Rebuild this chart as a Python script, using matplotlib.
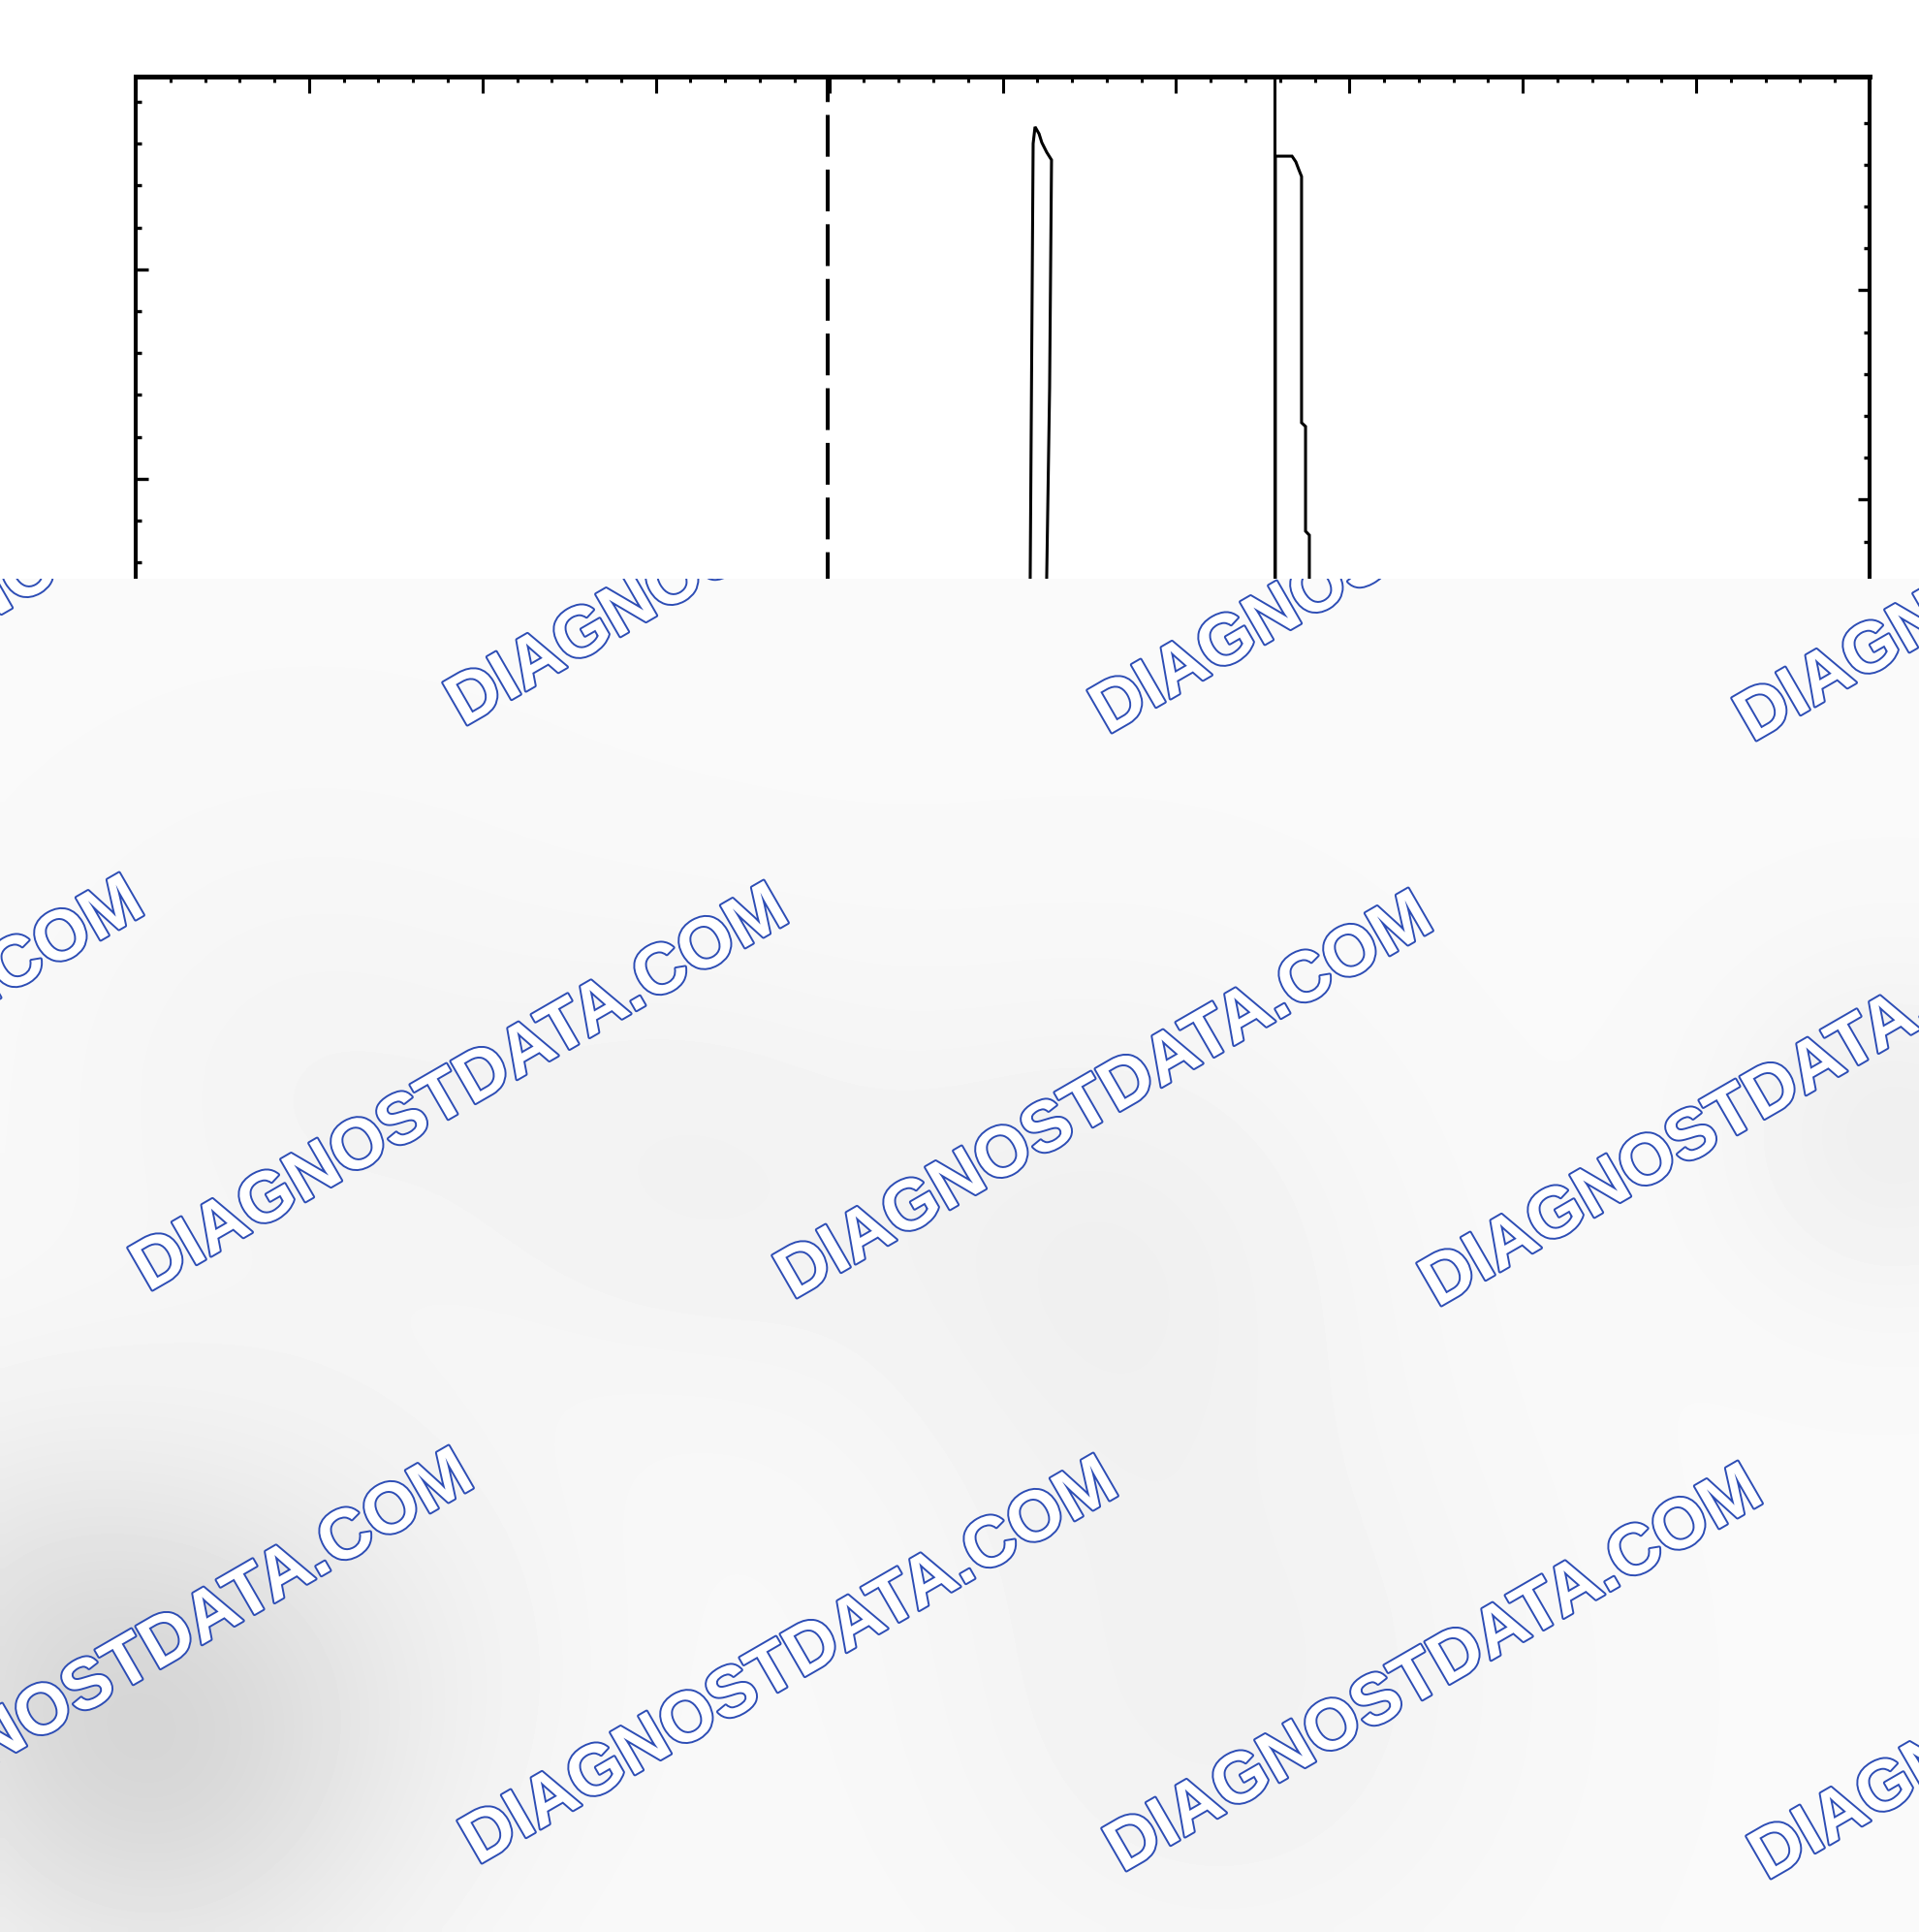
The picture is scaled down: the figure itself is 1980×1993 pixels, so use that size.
import numpy as np
import matplotlib.pyplot as plt
import matplotlib.patheffects as pe

# Scope trace, in screen divisions (x: 0..10 left->right, y: 0..8 bottom->top)
pulse1_x = [5.145, 5.159, 5.176, 5.187, 5.210, 5.226, 5.254, 5.282, 5.271, 5.254, 5.243]
pulse1_y = [1.88, 5.60, 7.68, 7.76, 7.727, 7.685, 7.639, 7.602, 6.514, 5.60, 1.88]

pulse2_x = [6.573, 6.573, 6.669, 6.691, 6.708, 6.724, 6.724, 6.747, 6.747, 6.769, 6.769]
pulse2_y = [1.88, 7.62, 7.62, 7.593, 7.556, 7.523, 6.347, 6.329, 5.829, 5.81, 1.88]

cursor_dashed = 3.99
cursor_solid = 6.57

# graticule marks
top_major = np.arange(0, 10.01, 1.0)
top_minor = np.arange(0, 10.01, 0.2)
left_minor = np.arange(7.88, 0, -0.2)
left_major = np.arange(7.08, 0, -1.0)
right_minor = np.arange(7.78, 0, -0.2)
right_major = np.arange(6.98, 0, -1.0)

# watermark overlay
wm_text = "DIAGNOSTDATA.COM"
wm_origin = (818, 1341)
wm_step_row = (665, 8)
wm_step_col = (-325, 583)
wm_blue = "#2d4db5"

# soft shading of the overlay (cx, cy, sigma, depth) in pixels
blob_cx = [150, 20, 330, 710, 1140, 1260, 1960, 320]
blob_cy = [1840, 1660, 1700, 1210, 1300, 1750, 1170, 1120]
blob_s = [170, 160, 180, 160, 190, 210, 120, 190]
blob_d = [0.10, 0.05, 0.035, 0.025, 0.035, 0.03, 0.04, 0.02]

W, H = 1980, 1993
TOP, BOT, LEFT, RIGHT = 79, 1807, 140, 1929
OV_TOP = 597

fig = plt.figure(figsize=(W / 100, H / 100), dpi=100, facecolor="white")

ax = fig.add_axes([LEFT / W, 1 - BOT / H, (RIGHT - LEFT) / W, (BOT - TOP) / H])
ax2 = ax.twinx()
for a in (ax, ax2):
    a.set_xlim(0, 10)
    a.set_ylim(0, 8)

ax.plot(pulse1_x, pulse1_y, color="black", lw=2.2, solid_joinstyle="miter")
ax.plot(pulse2_x, pulse2_y, color="black", lw=2.2, solid_joinstyle="miter")
ax.axvline(cursor_dashed, color="black", lw=2.9, linestyle=(11.5, (10.7, 3.3)))
ax.axvline(cursor_solid, color="black", lw=2.2)

ax.spines["top"].set_linewidth(3.6)
ax.spines["left"].set_linewidth(2.9)
ax.spines["right"].set_linewidth(2.9)
ax.spines["bottom"].set_linewidth(2.9)
for s in ax2.spines.values():
    s.set_visible(False)

ax.xaxis.tick_top()
ax.set_xticks(top_major)
ax.set_xticks(top_minor, minor=True)
ax.tick_params(axis="x", which="major", direction="in", length=12, width=2.2,
               top=True, bottom=False, labeltop=False, labelbottom=False)
ax.tick_params(axis="x", which="minor", direction="in", length=4, width=2.2,
               top=True, bottom=False)

ax.set_yticks(left_major)
ax.set_yticks(left_minor, minor=True)
ax.tick_params(axis="y", which="major", direction="in", length=9, width=2.4,
               left=True, right=False, labelleft=False)
ax.tick_params(axis="y", which="minor", direction="in", length=4, width=2.4,
               left=True, right=False)

ax2.set_yticks(right_major)
ax2.set_yticks(right_minor, minor=True)
ax2.tick_params(axis="y", which="major", direction="in", length=9, width=2.4,
                right=True, left=False, labelright=False)
ax2.tick_params(axis="y", which="minor", direction="in", length=4, width=2.4,
                right=True, left=False)

# grey watermark overlay covering the lower part
ov = fig.add_axes([0, 0, 1, (H - OV_TOP) / H], zorder=5)
ov.set_xlim(0, W)
ov.set_ylim(H, OV_TOP)
ov.axis("off")

gx, gy = np.meshgrid(np.linspace(0, W, 220), np.linspace(OV_TOP, H, 160))
shade = np.full(gx.shape, 0.978)
for cx, cy, s, d in zip(blob_cx, blob_cy, blob_s, blob_d):
    shade -= d * np.exp(-((gx - cx) ** 2 + (gy - cy) ** 2) / (2 * s ** 2))
ov.imshow(shade, cmap="gray", vmin=0, vmax=1, extent=(0, W, H, OV_TOP),
          interpolation="bilinear", aspect="auto")

for j in range(-2, 3):
    for i in range(-3, 3):
        x = wm_origin[0] + i * wm_step_row[0] + j * wm_step_col[0]
        y = wm_origin[1] + i * wm_step_row[1] + j * wm_step_col[1]
        ov.text(x, y, wm_text, rotation=30, rotation_mode="anchor",
                ha="left", va="baseline", fontsize=52.5, fontweight="bold",
                family="Liberation Sans", color="white", clip_on=True,
                path_effects=[pe.withStroke(linewidth=2.8, foreground=wm_blue)])

fig.savefig("out.png", dpi=100, facecolor="white")
